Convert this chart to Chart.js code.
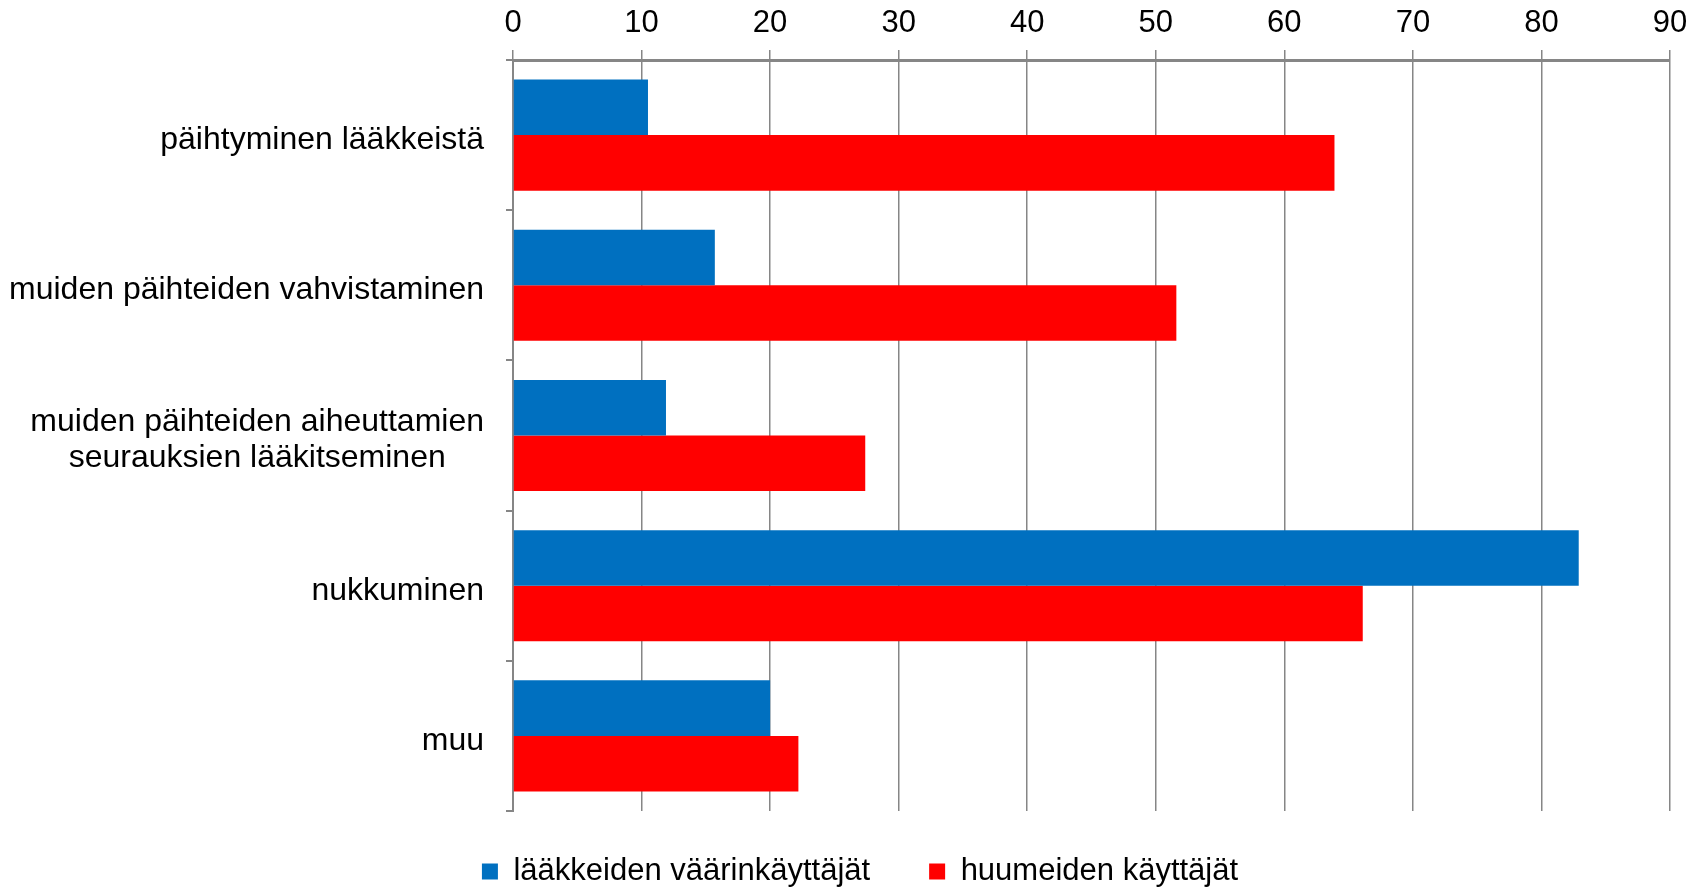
<!DOCTYPE html>
<html>
<head>
<meta charset="utf-8">
<script src="https://cdn.jsdelivr.net/npm/chart.js@4/dist/chart.umd.min.js"></script>
<style>
  html, body { margin: 0; padding: 0; background: #fff; }
  #wrap { width: 1707px; height: 887px; position: relative; }
</style>
</head>
<body>
<div id="wrap"><canvas id="c"></canvas></div>
<script>
const categories = [
  ['päihtyminen lääkkeistä'],
  ['muiden päihteiden vahvistaminen'],
  ['muiden päihteiden aiheuttamien', 'seurauksien lääkitseminen'],
  ['nukkuminen'],
  ['muu']
];
const seriesNames = ['lääkkeiden väärinkäyttäjät', 'huumeiden käyttäjät'];
const medicineMisusers = [10.5, 15.7, 11.9, 82.9, 20.0];
const drugUsers = [63.9, 51.6, 27.4, 66.1, 22.2];
const xTicks = [0, 10, 20, 30, 40, 50, 60, 70, 80, 90];

const FONT = '"Liberation Sans", Arial, sans-serif';
const GRID = '#868686';

const yLabelPlugin = {
  id: 'yLabels',
  afterLayout(chart) {
    const lg = chart.legend;
    if (lg) {
      lg.top -= 14;
      lg.left += 25;
      lg.right += 25;
    }
  },
  afterDraw(chart) {
    const y = chart.scales.y;
    const ctx = chart.ctx;
    ctx.save();
    ctx.font = '32px ' + FONT;
    ctx.fillStyle = '#000';
    ctx.textAlign = 'center';
    ctx.textBaseline = 'middle';
    const rightX = y.right - 29;
    const lineH = 36;
    categories.forEach((lines, i) => {
      const cy = y.getPixelForValue(i) + 5;
      const maxW = Math.max(...lines.map(l => ctx.measureText(l).width));
      const cx = rightX - maxW / 2;
      const start = cy - (lines.length - 1) * lineH / 2;
      lines.forEach((l, j) => ctx.fillText(l, cx, start + j * lineH));
    });
    ctx.restore();
  }
};

new Chart(document.getElementById('c'), {
  type: 'bar',
  data: {
    labels: categories.map(l => l.join(' ')),
    datasets: [
      { label: seriesNames[0], data: medicineMisusers, backgroundColor: '#0070C0', borderWidth: 0 },
      { label: seriesNames[1], data: drugUsers, backgroundColor: '#FF0000', borderWidth: 0 }
    ]
  },
  options: {
    indexAxis: 'y',
    responsive: true,
    maintainAspectRatio: false,
    animation: false,
    layout: { padding: { left: 0, right: 37, top: 0, bottom: 0 } },
    datasets: { bar: { categoryPercentage: 0.74, barPercentage: 1.0 } },
    scales: {
      x: {
        position: 'top',
        min: 0,
        max: 90,
        afterBuildTicks(scale) { scale.ticks = xTicks.map(v => ({ value: v })); },
        afterFit(scale) { scale.height = 60; },
        ticks: { font: { family: FONT, size: 31 }, color: '#000', padding: 8 },
        grid: { color: GRID, lineWidth: 1.5, tickLength: 10, drawTicks: true },
        border: { color: GRID, width: 3 }
      },
      y: {
        afterFit(scale) { scale.width = 513; },
        ticks: { display: false },
        grid: { drawOnChartArea: false, drawTicks: true, tickLength: 7, color: GRID, lineWidth: 2, offset: true },
        border: { color: GRID, width: 2 }
      }
    },
    plugins: {
      legend: {
        position: 'bottom',
        maxHeight: 76,
        labels: {
          font: { family: FONT, size: 31 },
          color: '#000',
          boxWidth: 16,
          boxHeight: 16,
          padding: 59
        }
      },
      tooltip: { enabled: false }
    }
  },
  plugins: [yLabelPlugin]
});
</script>
</body>
</html>
